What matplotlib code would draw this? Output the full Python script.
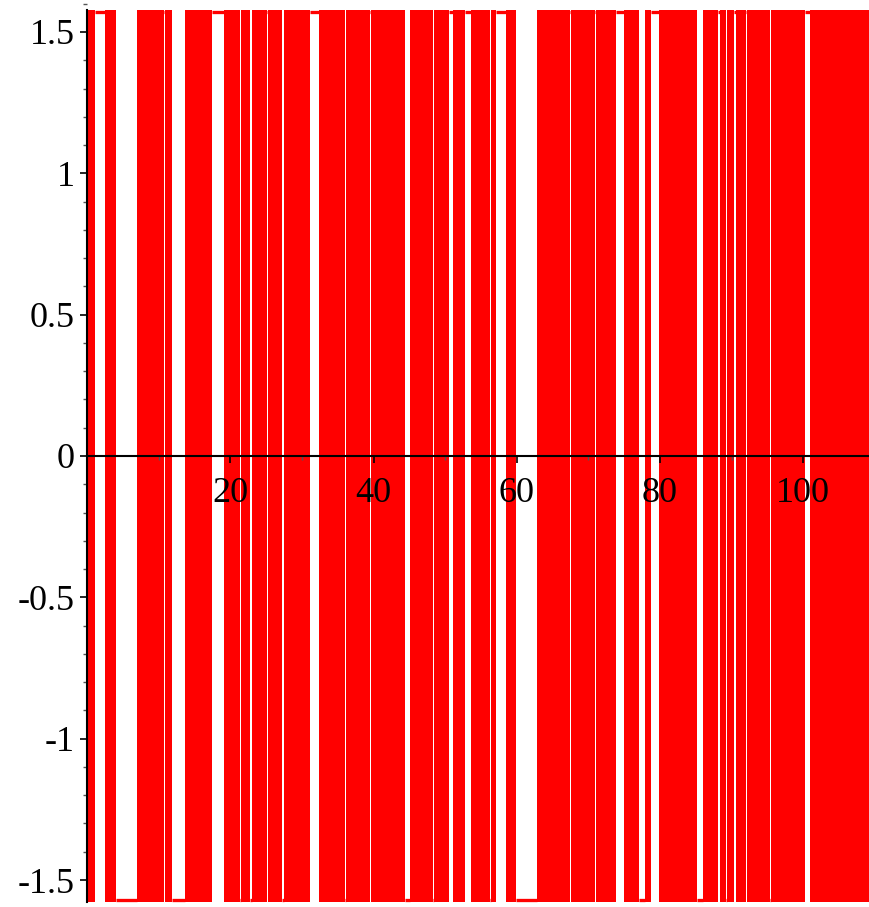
import matplotlib
matplotlib.use("Agg")
import matplotlib.pyplot as plt
import numpy as np
from matplotlib.ticker import FixedLocator, MultipleLocator

# Step function alternating between +pi/2 and -pi/2.
# Solid red bands = regions of very dense switching.
band_start = [0.00, 2.49, 6.91, 10.91, 13.66, 19.08, 21.52, 23.06, 25.25, 27.49,
              32.37, 36.19, 39.68, 45.08, 48.44, 51.13, 53.56, 56.40, 58.45, 62.86,
              67.61, 71.06, 74.97, 77.86, 79.90, 86.01, 88.34, 89.40, 90.57, 92.15,
              95.46, 100.95]
band_end = [1.09, 4.02, 10.73, 11.80, 17.47, 21.34, 22.74, 25.07, 27.25, 31.12,
            36.01, 39.50, 44.39, 48.34, 50.53, 52.72, 56.26, 57.09, 59.89, 67.43,
            70.92, 73.81, 77.07, 78.78, 85.21, 88.14, 89.22, 90.34, 92.01, 95.32,
            100.25, 109.5]
# level of the function in each gap between consecutive bands (+1 top, -1 bottom)
gap_level = [1, -1, 1, -1, 1, -1, -1, 1, -1, 1,
             -1, 1, -1, -1, 1, 1, -1, 1, -1, 1,
             1, 1, -1, 1, -1, 1, -1, 1, 1, -1,
             1]

y_ticks = [-1.5, -1.0, -0.5, 0.0, 0.5, 1.0, 1.5]
y_tick_labels = ["-1.5", "-1", "-0.5", "0", "0.5", "1", "1.5"]
x_ticks = [20, 40, 60, 80, 100]
x_tick_labels = ["20", "40", "60", "80", "100"]
x_minor = [10, 30, 50, 70, 90]

W, H, DPI = 869, 907, 100
fig = plt.figure(figsize=(W / DPI, H / DPI), dpi=DPI)
left_px = 87.2
ax = fig.add_axes([left_px / W, 0, 1 - left_px / W, 1])

PX_PER_Y = 282.67
HALF = np.pi / 2
lw_px = 3.3
pad_y = lw_px / 2 / PX_PER_Y
RED = "#ff0000"

for s, e in zip(band_start, band_end):
    ax.fill_between([s, e], -HALF - pad_y, HALF + pad_y, color=RED, lw=0, zorder=1)
for i, lev in enumerate(gap_level):
    ax.plot([band_end[i], band_start[i + 1]], [lev * HALF, lev * HALF], color=RED,
            lw=lw_px * 72 / DPI, solid_capstyle="butt", zorder=1)

ax.set_xlim(0, (W - left_px) / 7.16)
ax.set_ylim(-(H - 456) / PX_PER_Y, 456 / PX_PER_Y)

for s in ["top", "right"]:
    ax.spines[s].set_visible(False)
ax.spines["left"].set_position(("data", 0))
ax.spines["bottom"].set_position(("data", 0))
ax.spines["left"].set_bounds(-HALF - pad_y, HALF + pad_y)
for s in ["left", "bottom"]:
    ax.spines[s].set_linewidth(1.5)
    ax.spines[s].set_color("black")
    ax.spines[s].set_zorder(3)

ax.yaxis.set_major_locator(FixedLocator(y_ticks))
ax.set_yticklabels(y_tick_labels)
ax.yaxis.set_minor_locator(MultipleLocator(0.1))
ax.xaxis.set_major_locator(FixedLocator(x_ticks))
ax.set_xticklabels(x_tick_labels)
ax.xaxis.set_minor_locator(FixedLocator(x_minor))

for lab in ax.get_xticklabels() + ax.get_yticklabels():
    lab.set_fontfamily("Liberation Serif")
    lab.set_fontsize(26)

ax.tick_params(axis="y", which="major", direction="out", length=5, width=1.2, pad=4, colors="black")
ax.tick_params(axis="y", which="minor", direction="out", length=2.8, width=1.0, colors="#555555")
ax.tick_params(axis="x", which="major", direction="out", length=5, width=1.2, pad=10, colors="black")
ax.tick_params(axis="x", which="minor", direction="out", length=2.8, width=1.0, colors="#555555")
ax.patch.set_alpha(0)

fig.savefig("out.png", dpi=DPI)
